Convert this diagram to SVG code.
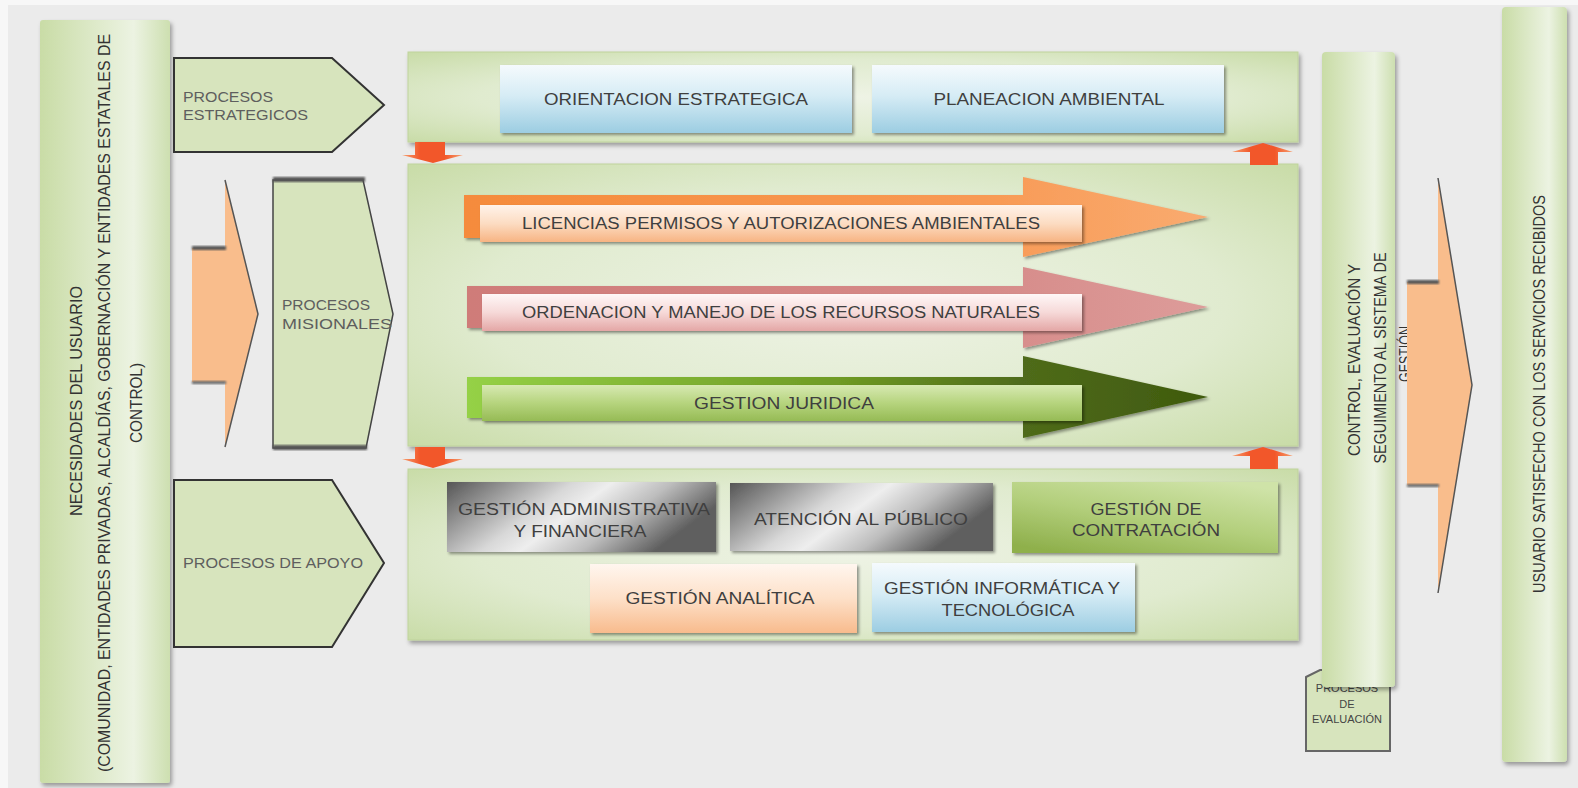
<svg xmlns="http://www.w3.org/2000/svg" width="1578" height="788" viewBox="0 0 1578 788">
<defs>
  <filter id="sh" x="-10%" y="-10%" width="125%" height="125%">
    <feDropShadow dx="2" dy="3" stdDeviation="2" flood-color="#000" flood-opacity="0.35"/>
  </filter>
  <filter id="shs" x="-5%" y="-10%" width="115%" height="130%">
    <feDropShadow dx="2" dy="2" stdDeviation="1.5" flood-color="#000" flood-opacity="0.4"/>
  </filter>
  <filter id="blur"><feGaussianBlur stdDeviation="1"/></filter>
  <linearGradient id="colGrad" x1="0" y1="0" x2="1" y2="0">
    <stop offset="0" stop-color="#c9dca6"/>
    <stop offset="0.72" stop-color="#ecf3e2"/>
    <stop offset="1" stop-color="#cddfb0"/>
  </linearGradient>
  <radialGradient id="panelGrad" cx="0.5" cy="0.5" r="0.7">
    <stop offset="0" stop-color="#eef3e5"/>
    <stop offset="0.6" stop-color="#e0ebcf"/>
    <stop offset="1" stop-color="#c9dca8"/>
  </radialGradient>
  <linearGradient id="blueGrad" x1="0" y1="0" x2="0" y2="1">
    <stop offset="0" stop-color="#f5fafd"/>
    <stop offset="0.45" stop-color="#d6ecf5"/>
    <stop offset="1" stop-color="#9ccde2"/>
  </linearGradient>
  <linearGradient id="peachGrad" x1="0" y1="0" x2="0" y2="1">
    <stop offset="0" stop-color="#fff6ef"/>
    <stop offset="0.5" stop-color="#fde0c8"/>
    <stop offset="1" stop-color="#f8bb8d"/>
  </linearGradient>
  <linearGradient id="grayGrad" x1="0" y1="0" x2="1" y2="0.35">
    <stop offset="0" stop-color="#555"/>
    <stop offset="0.42" stop-color="#d8d8d8"/>
    <stop offset="0.55" stop-color="#eeeeee"/>
    <stop offset="0.75" stop-color="#bdbdbd"/>
    <stop offset="1" stop-color="#5e5e5e"/>
  </linearGradient>
  <linearGradient id="greenBox" x1="0.2" y1="1" x2="0.8" y2="0">
    <stop offset="0" stop-color="#8fb04c"/>
    <stop offset="0.5" stop-color="#b3cf7c"/>
    <stop offset="1" stop-color="#cfe3a8"/>
  </linearGradient>
  <linearGradient id="orArrow" x1="0" y1="0" x2="1" y2="0">
    <stop offset="0" stop-color="#f58b3c"/>
    <stop offset="0.7" stop-color="#f89a55"/>
    <stop offset="1" stop-color="#f9ab70"/>
  </linearGradient>
  <linearGradient id="orLabel" x1="0" y1="0" x2="0" y2="1">
    <stop offset="0" stop-color="#fff3ea"/>
    <stop offset="0.5" stop-color="#fcdcc2"/>
    <stop offset="1" stop-color="#f7b483"/>
  </linearGradient>
  <linearGradient id="pkArrow" x1="0" y1="0" x2="1" y2="0">
    <stop offset="0" stop-color="#cf7b79"/>
    <stop offset="0.7" stop-color="#d68b89"/>
    <stop offset="1" stop-color="#dd9c9a"/>
  </linearGradient>
  <linearGradient id="pkLabel" x1="0" y1="0" x2="0" y2="1">
    <stop offset="0" stop-color="#fff7f7"/>
    <stop offset="0.5" stop-color="#f6d9d8"/>
    <stop offset="1" stop-color="#e4a7a6"/>
  </linearGradient>
  <linearGradient id="grArrow" x1="0" y1="0" x2="1" y2="0">
    <stop offset="0" stop-color="#95d146"/>
    <stop offset="0.5" stop-color="#6f9b25"/>
    <stop offset="0.75" stop-color="#4f6b1a"/>
    <stop offset="1" stop-color="#3f5a0e"/>
  </linearGradient>
  <linearGradient id="grLabel" x1="0" y1="0" x2="0" y2="1">
    <stop offset="0" stop-color="#d7e9b2"/>
    <stop offset="0.5" stop-color="#b6d47e"/>
    <stop offset="1" stop-color="#96bb55"/>
  </linearGradient>
  <linearGradient id="redArrow" x1="0" y1="0" x2="1" y2="0">
    <stop offset="0" stop-color="#f7a070"/>
    <stop offset="0.3" stop-color="#f2572a"/>
    <stop offset="0.7" stop-color="#f2572a"/>
    <stop offset="1" stop-color="#f7a070"/>
  </linearGradient>
</defs>
<style>
  .lbl{font-family:"Liberation Sans",Arial,sans-serif;font-size:16px;fill:#3f3f3f;text-anchor:middle}
  .plbl{font-family:"Liberation Sans",Arial,sans-serif;font-size:14px;fill:#5e5e5e}
  .vt{font-family:"Liberation Sans",Arial,sans-serif;font-size:16px;fill:#333;text-anchor:middle}
  .ev{font-family:"Liberation Sans",Arial,sans-serif;font-size:11px;fill:#444;text-anchor:middle}
  .col{fill:url(#colGrad)}
  .pent{fill:#d7e4bd;stroke:#333;stroke-width:2;stroke-linejoin:miter}
  .panel{fill:url(#panelGrad);stroke:#bfd39c;stroke-width:1}
  .peach{fill:#f9bd8c}
  .small{fill:url(#redArrow)}
</style>

<rect width="1578" height="788" fill="#f7f7f7"/>
<rect x="8" y="5" width="1570" height="783" fill="#ebebeb"/>

<g id="necesidades">
  <rect class="col" x="40" y="20" width="130" height="763" rx="3" filter="url(#sh)"/>
  <text class="vt" transform="translate(82,401) rotate(-90)" textLength="230" lengthAdjust="spacingAndGlyphs">NECESIDADES DEL USUARIO</text>
  <text class="vt" transform="translate(110,403) rotate(-90)" textLength="738" lengthAdjust="spacingAndGlyphs">(COMUNIDAD, ENTIDADES PRIVADAS, ALCALDÍAS, GOBERNACIÓN Y ENTIDADES ESTATALES DE</text>
  <text class="vt" transform="translate(142,403) rotate(-90)" textLength="80" lengthAdjust="spacingAndGlyphs">CONTROL)</text>
</g>

<g id="procesos-estrategicos">
  <path class="pent" d="M174,58 L332,58 L384,105 L332,152 L174,152 Z"/>
  <text class="plbl" x="183" y="102" textLength="90" lengthAdjust="spacingAndGlyphs">PROCESOS</text>
  <text class="plbl" x="183" y="120" textLength="125" lengthAdjust="spacingAndGlyphs">ESTRATEGICOS</text>
</g>

<g id="procesos-misionales">
  <path d="M273,180 L363,180 L393,314 L366,448 L273,448 Z" fill="#d7e4bd" stroke="#444" stroke-width="1.5"/>
  <rect x="273" y="177" width="92" height="5" fill="#555" filter="url(#blur)"/>
  <rect x="273" y="445" width="94" height="5" fill="#555" filter="url(#blur)"/>
  <text class="plbl" x="282" y="310" textLength="88" lengthAdjust="spacingAndGlyphs">PROCESOS</text>
  <text class="plbl" x="282" y="329" textLength="110" lengthAdjust="spacingAndGlyphs">MISIONALES</text>
</g>

<g id="procesos-apoyo">
  <path class="pent" d="M174,480 L332,480 L384,563 L332,647 L174,647 Z"/>
  <text class="plbl" x="183" y="568" textLength="180" lengthAdjust="spacingAndGlyphs">PROCESOS DE APOYO</text>
</g>

<g id="panel-estrategico">
  <rect class="panel" x="408" y="52" width="890" height="90" filter="url(#sh)"/>
  <g id="orientacion-estrategica">
    <rect x="500" y="65" width="352" height="68" fill="url(#blueGrad)" filter="url(#shs)"/>
    <text class="lbl" x="676" y="105" textLength="264" lengthAdjust="spacingAndGlyphs">ORIENTACION ESTRATEGICA</text>
  </g>
  <g id="planeacion-ambiental">
    <rect x="872" y="65" width="352" height="68" fill="url(#blueGrad)" filter="url(#shs)"/>
    <text class="lbl" x="1049" y="105" textLength="231" lengthAdjust="spacingAndGlyphs">PLANEACION AMBIENTAL</text>
  </g>
</g>

<g id="panel-misional">
  <rect class="panel" x="408" y="164" width="890" height="282" filter="url(#sh)"/>
  <g id="licencias">
    <path d="M464,195 L1023,195 L1023,177 L1208,217 L1023,257 L1023,238 L464,238 Z" fill="url(#orArrow)" filter="url(#shs)"/>
    <rect x="480" y="205" width="602" height="37" fill="url(#orLabel)" filter="url(#shs)"/>
    <text class="lbl" x="781" y="229" textLength="518" lengthAdjust="spacingAndGlyphs">LICENCIAS PERMISOS Y AUTORIZACIONES AMBIENTALES</text>
  </g>
  <g id="ordenacion">
    <path d="M467,286 L1023,286 L1023,267 L1208,307 L1023,348 L1023,328 L467,328 Z" fill="url(#pkArrow)" filter="url(#shs)"/>
    <rect x="482" y="294" width="600" height="37" fill="url(#pkLabel)" filter="url(#shs)"/>
    <text class="lbl" x="781" y="318" textLength="518" lengthAdjust="spacingAndGlyphs">ORDENACION Y MANEJO DE LOS RECURSOS NATURALES</text>
  </g>
  <g id="gestion-juridica">
    <path d="M467,377 L1023,377 L1023,356 L1208,397 L1023,438 L1023,418 L467,418 Z" fill="url(#grArrow)" filter="url(#shs)"/>
    <rect x="482" y="385" width="600" height="36" fill="url(#grLabel)" filter="url(#shs)"/>
    <text class="lbl" x="784" y="409" textLength="180" lengthAdjust="spacingAndGlyphs">GESTION JURIDICA</text>
  </g>
</g>

<g id="panel-apoyo">
  <rect class="panel" x="408" y="469" width="890" height="171" filter="url(#sh)"/>
  <g id="gestion-administrativa">
    <rect x="447" y="482" width="269" height="70" fill="url(#grayGrad)" filter="url(#shs)"/>
    <text class="lbl" x="584" y="515" textLength="252" lengthAdjust="spacingAndGlyphs">GESTIÓN ADMINISTRATIVA</text>
    <text class="lbl" x="580" y="537" textLength="133" lengthAdjust="spacingAndGlyphs">Y FINANCIERA</text>
  </g>
  <g id="atencion-publico">
    <rect x="730" y="483" width="263" height="68" fill="url(#grayGrad)" filter="url(#shs)"/>
    <text class="lbl" x="861" y="525" textLength="214" lengthAdjust="spacingAndGlyphs">ATENCIÓN AL PÚBLICO</text>
  </g>
  <g id="gestion-contratacion">
    <rect x="1012" y="482" width="266" height="71" fill="url(#greenBox)" filter="url(#shs)"/>
    <text class="lbl" x="1146" y="515" textLength="111" lengthAdjust="spacingAndGlyphs">GESTIÓN DE</text>
    <text class="lbl" x="1146" y="536" textLength="148" lengthAdjust="spacingAndGlyphs">CONTRATACIÓN</text>
  </g>
  <g id="gestion-analitica">
    <rect x="590" y="564" width="267" height="69" fill="url(#peachGrad)" filter="url(#shs)"/>
    <text class="lbl" x="720" y="604" textLength="189" lengthAdjust="spacingAndGlyphs">GESTIÓN ANALÍTICA</text>
  </g>
  <g id="gestion-informatica">
    <rect x="872" y="563" width="263" height="69" fill="url(#blueGrad)" filter="url(#shs)"/>
    <text class="lbl" x="1002" y="594" textLength="236" lengthAdjust="spacingAndGlyphs">GESTIÓN INFORMÁTICA Y</text>
    <text class="lbl" x="1008" y="616" textLength="133" lengthAdjust="spacingAndGlyphs">TECNOLÓGICA</text>
  </g>
</g>

<g id="procesos-evaluacion">
  <path d="M1306,677 L1320,670 L1384,670 L1390,677 L1390,751 L1306,751 Z" fill="#d7e4bd" stroke="#666" stroke-width="2"/>
  <text class="ev" x="1347" y="692">PROCESOS</text>
  <text class="ev" x="1347" y="708">DE</text>
  <text class="ev" x="1347" y="723">EVALUACIÓN</text>
</g>

<g id="control-evaluacion">
  <rect class="col" x="1322" y="52" width="73" height="635" rx="4" filter="url(#sh)"/>
  <text class="vt" transform="translate(1360,360) rotate(-90)" font-size="15" textLength="192" lengthAdjust="spacingAndGlyphs">CONTROL, EVALUACIÓN Y</text>
  <text class="vt" transform="translate(1386,358) rotate(-90)" font-size="15" textLength="211" lengthAdjust="spacingAndGlyphs">SEGUIMIENTO AL SISTEMA DE</text>
  <text class="vt" transform="translate(1411,354) rotate(-90)" font-size="15" textLength="56" lengthAdjust="spacingAndGlyphs">GESTIÓN</text>
</g>

<g id="usuario-satisfecho">
  <rect class="col" x="1502" y="7" width="65" height="755" rx="4" filter="url(#sh)"/>
  <text class="vt" transform="translate(1545,394) rotate(-90)" font-size="16" textLength="398" lengthAdjust="spacingAndGlyphs">USUARIO SATISFECHO CON LOS SERVICIOS RECIBIDOS</text>
</g>

<g id="connectors">
  <path class="peach" d="M192,248 L225,248 L225,180 L258,314 L225,447 L225,382 L192,382 Z"/>
  <path d="M225,180 L258,314 L225,447" fill="none" stroke="#555" stroke-width="1.5"/>
  <rect x="192" y="246" width="34" height="4" fill="#555" filter="url(#blur)"/>
  <rect x="192" y="381" width="34" height="3" fill="#666" filter="url(#blur)"/>
  <path class="peach" d="M1407,282 L1438,282 L1438,178 L1472,385 L1438,593 L1438,485 L1407,485 Z"/>
  <path d="M1438,178 L1472,385 L1438,593" fill="none" stroke="#555" stroke-width="1.5"/>
  <rect x="1407" y="280" width="32" height="4" fill="#555" filter="url(#blur)"/>
  <rect x="1407" y="484" width="32" height="3" fill="#666" filter="url(#blur)"/>
  <path class="small" d="M415,142 L445,142 L445,155 L463,155 L433,163 L402,155 L415,155 Z"/>
  <path class="small" d="M1250,165 L1278,165 L1278,152 L1293,152 L1263,143 L1232,152 L1250,152 Z"/>
  <path class="small" d="M415,447 L445,447 L445,459 L463,459 L433,468 L402,459 L415,459 Z"/>
  <path class="small" d="M1250,469 L1278,469 L1278,456 L1293,456 L1263,447 L1232,456 L1250,456 Z"/>
</g>
</svg>
